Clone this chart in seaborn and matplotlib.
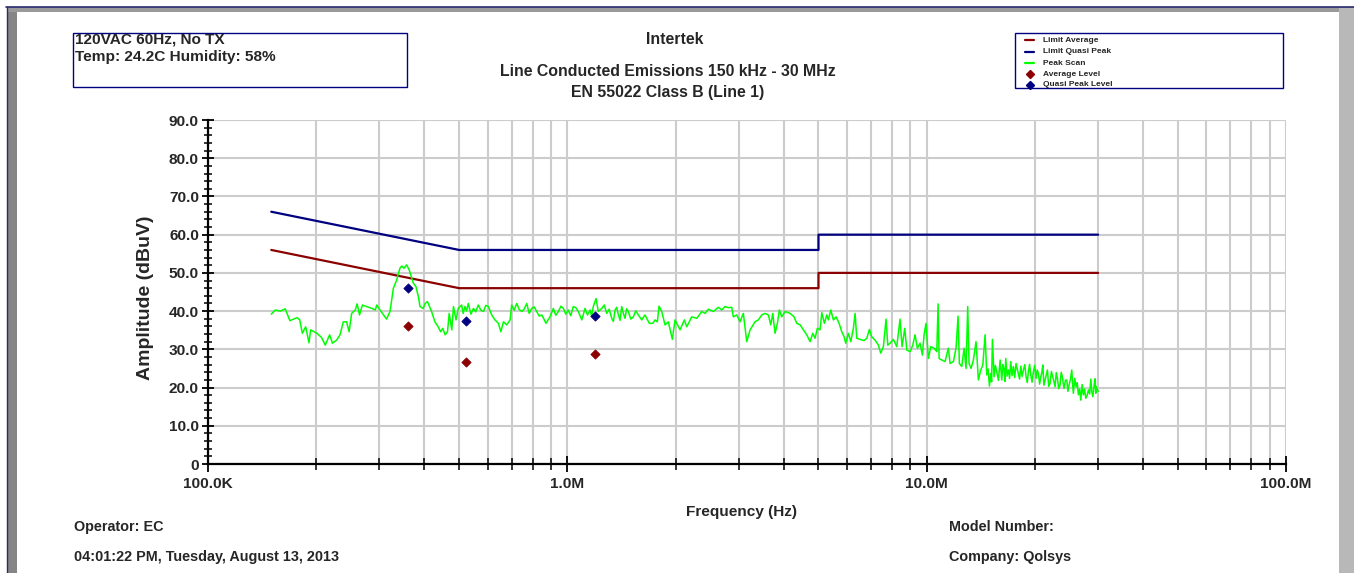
import matplotlib
matplotlib.use("Agg")
import matplotlib.pyplot as plt
import pandas as pd
import seaborn as sns
from matplotlib import font_manager
from matplotlib.lines import Line2D
from matplotlib.patches import Rectangle
from matplotlib.ticker import LogLocator, MultipleLocator, NullFormatter

# ---- Peak scan trace (MHz, dBuV) ----
scan_freq_mhz = [
    0.150, 0.154, 0.159, 0.164, 0.169, 0.177, 0.180, 0.183, 0.187, 0.191,
    0.193, 0.201, 0.207, 0.212, 0.218, 0.222, 0.228, 0.233, 0.238, 0.243,
    0.247, 0.251, 0.257, 0.260, 0.264, 0.269, 0.276, 0.286, 0.292, 0.295,
    0.301, 0.308, 0.314, 0.321, 0.328, 0.335, 0.342, 0.346, 0.351, 0.357,
    0.363, 0.369, 0.373, 0.379, 0.385, 0.389, 0.397, 0.402, 0.408, 0.419,
    0.428, 0.437, 0.444, 0.450, 0.457, 0.464, 0.469, 0.477, 0.482, 0.490,
    0.497, 0.508, 0.513, 0.519, 0.524, 0.530, 0.539, 0.548, 0.556, 0.565,
    0.575, 0.584, 0.593, 0.603, 0.616, 0.629, 0.643, 0.653, 0.664, 0.678,
    0.693, 0.700, 0.711, 0.723, 0.735, 0.747, 0.759, 0.771, 0.783, 0.796,
    0.809, 0.822, 0.835, 0.849, 0.860, 0.872, 0.895, 0.914, 0.929, 0.944,
    0.960, 0.975, 0.990, 1.006, 1.022, 1.039, 1.056, 1.073, 1.097, 1.120,
    1.138, 1.157, 1.169, 1.181, 1.202, 1.220, 1.247, 1.267, 1.287, 1.308,
    1.329, 1.343, 1.358, 1.372, 1.387, 1.402, 1.417, 1.432, 1.447, 1.462,
    1.478, 1.502, 1.526, 1.551, 1.576, 1.611, 1.645, 1.691, 1.729, 1.754,
    1.780, 1.800, 1.831, 1.870, 1.910, 1.960, 1.994, 2.059, 2.117, 2.150,
    2.219, 2.292, 2.366, 2.417, 2.468, 2.549, 2.632, 2.690, 2.747, 2.806,
    2.868, 2.897, 2.961, 3.024, 3.089, 3.157, 3.225, 3.330, 3.401, 3.476,
    3.550, 3.626, 3.682, 3.730, 3.785, 3.842, 3.891, 3.951, 4.036, 4.167,
    4.275, 4.350, 4.443, 4.538, 4.638, 4.737, 4.820, 4.891, 4.964, 5.050,
    5.106, 5.192, 5.272, 5.326, 5.409, 5.500, 5.596, 5.705, 5.804, 5.890,
    5.954, 6.055, 6.149, 6.252, 6.321, 6.389, 6.526, 6.695, 6.813, 6.927,
    7.033, 7.184, 7.338, 7.452, 7.577, 7.709, 7.794, 7.910, 8.078, 8.256,
    8.432, 8.541, 8.691, 8.803, 8.991, 9.148, 9.284, 9.421, 9.585, 9.728,
    9.834, 9.960, 10.11, 10.27, 10.49, 10.67, 10.76, 10.83, 11.02, 11.25,
    11.49, 11.62, 11.87, 12.07, 12.23, 12.33, 12.52, 12.71, 12.87, 13.01,
    13.12, 13.29, 13.49, 13.72, 13.93, 14.14, 14.33, 14.54, 14.70, 14.82,
    14.95, 15.08, 15.16, 15.24, 15.40, 15.53, 15.67, 15.84, 16.01, 16.18,
    16.30, 16.42, 16.51, 16.60, 16.74, 16.88, 17.01, 17.14, 17.28, 17.43,
    17.58, 17.73, 17.86, 18.00, 18.14, 18.28, 18.43, 18.59, 18.75, 18.91,
    19.05, 19.19, 19.34, 19.49, 19.65, 19.81, 19.98, 20.16, 20.31, 20.46,
    20.62, 20.78, 20.91, 21.05, 21.20, 21.36, 21.52, 21.68, 21.86, 22.05,
    22.24, 22.44, 22.60, 22.77, 22.94, 23.11, 23.31, 23.51, 23.68, 23.86,
    23.99, 24.12, 24.33, 24.54, 24.72, 24.91, 25.12, 25.34, 25.47, 25.60,
    25.82, 26.05, 26.24, 26.44, 26.64, 26.85, 27.07, 27.30, 27.51, 27.72,
    27.95, 28.19, 28.41, 28.63, 28.81, 29.00, 29.15, 29.29, 29.43, 29.56,
    29.67, 30.00,
]
scan_level_dbuv = [
    39.2, 40.3, 40.0, 40.6, 37.5, 38.3, 37.7, 34.2, 35.9, 31.7,
    35.1, 34.2, 33.1, 31.1, 33.8, 31.6, 32.4, 33.8, 37.2, 37.2,
    34.6, 39.4, 40.3, 41.9, 39.0, 41.6, 41.2, 40.7, 40.3, 41.6,
    40.3, 39.0, 37.9, 39.9, 46.0, 48.1, 51.2, 51.8, 51.2, 52.1,
    50.8, 48.6, 47.3, 46.4, 43.8, 41.2, 40.7, 42.0, 42.5, 39.9,
    37.2, 35.9, 34.6, 35.5, 33.8, 34.6, 39.4, 35.1, 41.2, 37.7,
    40.7, 41.6, 39.4, 41.2, 40.0, 42.0, 39.2, 40.7, 39.8, 41.6,
    40.2, 39.9, 41.5, 41.2, 39.0, 37.7, 36.8, 34.6, 37.2, 36.4,
    37.7, 41.6, 40.2, 42.0, 40.4, 39.9, 40.6, 42.0, 39.4, 40.7,
    41.1, 39.9, 38.7, 39.0, 38.0, 36.8, 38.5, 40.7, 38.9, 39.9,
    41.3, 40.7, 39.2, 40.3, 38.8, 41.2, 40.9, 39.9, 37.7, 40.7,
    39.0, 40.3, 38.6, 41.2, 43.3, 39.9, 40.7, 41.6, 39.4, 40.5,
    38.1, 37.3, 40.3, 41.0, 39.0, 37.6, 41.2, 39.4, 38.1, 40.6,
    39.9, 37.9, 38.5, 40.1, 39.0, 37.7, 39.0, 36.8, 36.8, 37.7,
    37.2, 41.3, 39.9, 36.4, 37.2, 32.6, 37.7, 35.1, 37.7, 35.9,
    38.5, 38.1, 39.9, 39.4, 40.5, 39.9, 41.0, 40.3, 41.2, 40.9,
    41.0, 38.5, 39.0, 37.2, 39.4, 32.0, 35.1, 37.2, 37.7, 39.0,
    39.4, 39.0, 36.4, 39.4, 34.2, 36.8, 40.3, 38.5, 39.9, 39.4,
    38.5, 36.8, 36.4, 35.1, 33.8, 32.0, 34.2, 32.9, 35.5, 35.1,
    39.6, 36.8, 39.0, 37.7, 40.3, 37.7, 38.5, 36.8, 34.6, 33.3,
    31.6, 34.2, 32.0, 35.5, 39.4, 32.9, 32.6, 32.3, 32.9, 35.2,
    33.3, 32.4, 31.1, 29.0, 30.7, 37.9, 31.1, 31.6, 32.6, 30.7,
    37.9, 30.7, 35.5, 29.8, 29.4, 31.1, 33.8, 30.3, 31.6, 28.5,
    33.8, 36.8, 27.6, 30.7, 30.3, 29.4, 41.9, 27.6, 27.2, 26.8,
    30.3, 26.3, 26.8, 30.3, 38.7, 26.3, 25.5, 30.3, 25.0, 41.2,
    26.3, 25.0, 27.2, 32.0, 22.0, 24.6, 25.9, 33.8, 23.3, 24.9,
    20.4, 23.7, 21.5, 32.6, 22.8, 25.8, 24.1, 21.9, 27.2, 22.0,
    26.0, 24.8, 21.6, 27.6, 23.0, 24.6, 22.4, 26.8, 23.1, 25.5,
    22.6, 26.3, 25.0, 23.7, 22.2, 25.6, 22.9, 24.6, 26.0, 22.8,
    21.3, 24.1, 26.1, 23.3, 21.4, 24.1, 25.8, 22.4, 24.6, 23.7,
    20.9, 22.8, 23.9, 25.9, 20.6, 22.0, 23.3, 24.6, 20.3, 21.1,
    24.2, 22.8, 21.6, 20.2, 23.9, 22.4, 19.7, 20.7, 24.0, 22.8,
    21.1, 19.8, 21.9, 22.0, 19.0, 20.7, 22.1, 24.6, 21.0, 18.5,
    22.4, 20.2, 21.3, 18.1, 19.6, 16.7, 20.8, 18.1, 19.6, 17.2,
    17.9, 19.4, 18.3, 22.2, 19.0, 17.6, 19.5, 21.1, 22.3, 18.5,
    20.2, 19.0,
]

# ---- EN 55022 Class B limits ----
limit_freq_mhz = [0.15, 0.5, 5.0, 5.0, 30.0]
limit_qp_dbuv = [66.0, 56.0, 56.0, 60.0, 60.0]
limit_avg_dbuv = [56.0, 46.0, 46.0, 50.0, 50.0]

# ---- Final measurements ----
meas_freq_mhz = [0.360, 0.522, 1.194]
qp_level_dbuv = [46.1, 37.5, 38.8]
avg_level_dbuv = [36.2, 26.6, 28.9]

# ---- Axis ticks ----
y_ticks = [0, 10, 20, 30, 40, 50, 60, 70, 80, 90]
y_tick_labels = ["0", "10.0", "20.0", "30.0", "40.0", "50.0", "60.0", "70.0", "80.0", "90.0"]
x_ticks_hz = [1e5, 1e6, 1e7, 1e8]
x_tick_labels = ["100.0K", "1.0M", "10.0M", "100.0M"]

C_AVG = "#8b0000"
C_QP = "#000080"
C_SCAN = "#00ff00"
C_GRID = "#cccccc"

sns.set_style("white")
names = {f.name for f in font_manager.fontManager.ttflist}
NARROW = "Liberation Sans Narrow" in names
FONT = "Liberation Sans Narrow" if NARROW else "Liberation Sans"
SC = 1.0 if NARROW else 0.82
plt.rcParams["font.family"] = [FONT, "DejaVu Sans"]
plt.rcParams["font.weight"] = "bold"

W, H = 1354, 573
fig = plt.figure(figsize=(W / 100, H / 100), dpi=100)
fig.patch.set_facecolor("white")


def fx(x):
    return x / W


def fy(y):
    return 1 - y / H


ax = fig.add_axes([fx(208), fy(464), (1286 - 208) / W, (464 - 120) / H])
ax.set_xscale("log")

scan = pd.DataFrame({"freq": [f * 1e6 for f in scan_freq_mhz], "level": scan_level_dbuv})
limits = pd.DataFrame({
    "freq": [f * 1e6 for f in limit_freq_mhz],
    "qp": limit_qp_dbuv,
    "avg": limit_avg_dbuv,
})
meas = pd.DataFrame({
    "freq": [f * 1e6 for f in meas_freq_mhz],
    "qp": qp_level_dbuv,
    "avg": avg_level_dbuv,
})

sns.lineplot(data=limits, x="freq", y="avg", ax=ax, color=C_AVG, lw=1.6,
             estimator=None, sort=False, zorder=3)
sns.lineplot(data=limits, x="freq", y="qp", ax=ax, color=C_QP, lw=1.6,
             estimator=None, sort=False, zorder=3)
sns.lineplot(data=scan, x="freq", y="level", ax=ax, color=C_SCAN, lw=1.1,
             estimator=None, sort=False, zorder=4)
sns.scatterplot(data=meas, x="freq", y="avg", ax=ax, color=C_AVG, marker="D",
                s=22, edgecolor=C_AVG, linewidth=0.6, zorder=5)
sns.scatterplot(data=meas, x="freq", y="qp", ax=ax, color=C_QP, marker="D",
                s=22, edgecolor=C_QP, linewidth=0.6, zorder=5)

ax.set_xlim(1e5, 1e8)
ax.set_ylim(0, 90)

# ticks
ax.set_yticks(y_ticks)
ax.set_yticklabels(y_tick_labels)
ax.yaxis.set_minor_locator(MultipleLocator(2))
ax.set_xticks(x_ticks_hz)
ax.set_xticklabels(x_tick_labels)
ax.xaxis.set_minor_locator(LogLocator(base=10, subs=[2, 3, 4, 5, 6, 7, 8, 9]))
ax.xaxis.set_minor_formatter(NullFormatter())

ax.tick_params(axis="y", which="major", left=True, direction="inout", length=9,
               width=1.3, pad=2, labelsize=13.5 * SC, color="black")
ax.tick_params(axis="y", which="minor", left=True, direction="inout", length=6,
               width=1.1, color="black")
ax.tick_params(axis="x", which="major", bottom=True, direction="inout", length=12,
               width=1.3, pad=3, labelsize=13.5 * SC, color="black")
ax.tick_params(axis="x", which="minor", bottom=True, direction="inout", length=8,
               width=1.1, color="black")
for lab in ax.get_xticklabels() + ax.get_yticklabels():
    lab.set_fontweight("bold")

ax.set_axisbelow(True)
ax.grid(which="major", axis="both", color=C_GRID, lw=1.5)
ax.grid(which="minor", axis="x", color=C_GRID, lw=1.5)

for s in ("top", "right"):
    ax.spines[s].set_visible(False)
for s in ("left", "bottom"):
    ax.spines[s].set_color("black")
    ax.spines[s].set_linewidth(1.6)

ax.set_ylabel("Amplitude (dBuV)", fontsize=14, fontweight="bold",
              family=["Liberation Sans", "DejaVu Sans"], va="center")
ax.yaxis.set_label_coords((146 - 208) / 1078, (464 - 298) / 344)
ax.set_xlabel("Frequency (Hz)", fontsize=13.5 * SC, fontweight="bold", va="center")
ax.xaxis.set_label_coords((741 - 208) / 1078, -(512 - 464) / 344)

# ---- window frame ----
fig.add_artist(Rectangle((fx(7), 0), (17 - 7) / W, fy(8), transform=fig.transFigure,
                         facecolor="#858585", edgecolor="none", zorder=1))
fig.add_artist(Rectangle((fx(7), fy(12)), (1354 - 7) / W, 5 / H, transform=fig.transFigure,
                         facecolor="#9a9a9a", edgecolor="none", zorder=1))
fig.add_artist(Rectangle((fx(1339), 0), 15 / W, fy(8), transform=fig.transFigure,
                         facecolor="#b8b8b8", edgecolor="none", zorder=1))
fig.add_artist(Line2D([fx(6), fx(1354)], [fy(7), fy(7)], transform=fig.transFigure,
                      color="#2a2a70", lw=1.2, zorder=2))
fig.add_artist(Line2D([fx(6.5), fx(6.5)], [0, fy(7)], transform=fig.transFigure,
                      color="#2a2a70", lw=1.0, zorder=2))

# ---- header texts ----
fig.add_artist(Rectangle((fx(73), fy(87)), (407 - 73) / W, (87 - 33) / H,
                         transform=fig.transFigure, facecolor="none",
                         edgecolor=C_QP, lw=1.0, zorder=2))
fig.text(fx(75), fy(40), "120VAC 60Hz, No TX", fontsize=13.5 * SC, fontweight="bold",
         ha="left", va="center")
fig.text(fx(75), fy(57), "Temp: 24.2C Humidity: 58%", fontsize=13.5 * SC,
         fontweight="bold", ha="left", va="center")

fig.text(fx(675), fy(40), "Intertek", fontsize=14 * SC, fontweight="bold",
         ha="center", va="center")
fig.text(fx(668), fy(71), "Line Conducted Emissions 150 kHz - 30 MHz", fontsize=14 * SC,
         fontweight="bold", ha="center", va="center")
fig.text(fx(668), fy(92), "EN 55022 Class B (Line 1)", fontsize=14 * SC,
         fontweight="bold", ha="center", va="center")

# ---- legend box ----
fig.add_artist(Rectangle((fx(1015), fy(88)), (1283 - 1015) / W, (88 - 33) / H,
                         transform=fig.transFigure, facecolor="white",
                         edgecolor=C_QP, lw=1.0, zorder=2))
legend_rows = [
    ("Limit Average", C_AVG, "line"),
    ("Limit Quasi Peak", C_QP, "line"),
    ("Peak Scan", C_SCAN, "line"),
    ("Average Level", C_AVG, "marker"),
    ("Quasi Peak Level", C_QP, "marker"),
]
row_y = [40, 51.5, 63, 74, 85]
for (label, col, kind), yy in zip(legend_rows, row_y):
    if kind == "line":
        fig.add_artist(Line2D([fx(1025), fx(1034)], [fy(yy), fy(yy)],
                              transform=fig.transFigure, color=col, lw=1.6, zorder=3))
    else:
        fig.add_artist(Line2D([fx(1029.5)], [fy(yy)], transform=fig.transFigure,
                              marker="D", ms=4, color=col, lw=0, zorder=3))
    fig.text(fx(1043), fy(yy), label, fontsize=7.3 * SC, fontweight="bold",
             ha="left", va="center", zorder=3)

# ---- footer texts ----
FOOT = 13.5 * SC * (0.94 if not NARROW else 1.0)
fig.text(fx(74), fy(527), "Operator: EC", fontsize=FOOT, fontweight="bold",
         ha="left", va="center")
fig.text(fx(74), fy(557), "04:01:22 PM, Tuesday, August 13, 2013", fontsize=FOOT,
         fontweight="bold", ha="left", va="center")
fig.text(fx(949), fy(527), "Model Number:", fontsize=FOOT, fontweight="bold",
         ha="left", va="center")
fig.text(fx(949), fy(557), "Company: Qolsys", fontsize=FOOT, fontweight="bold",
         ha="left", va="center")

fig.savefig("out.png", dpi=100, facecolor="white")
